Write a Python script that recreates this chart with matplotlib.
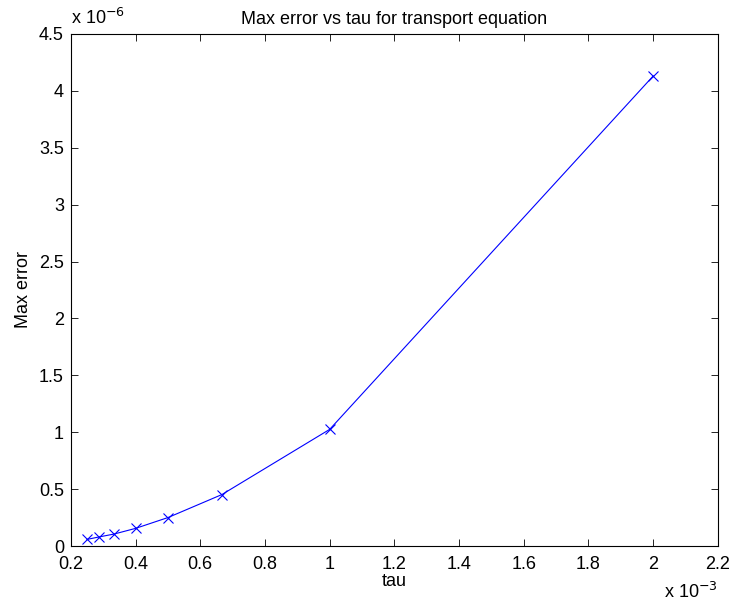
import matplotlib.pyplot as plt
from matplotlib.ticker import FuncFormatter, MultipleLocator

plt.rcParams['font.family'] = ['Liberation Sans', 'DejaVu Sans']

# time step and max error readings
tau = [2.5e-4, 2.857e-4, 3.333e-4, 4.0e-4, 5.0e-4, 6.667e-4, 1.0e-3, 2.0e-3]
max_err = [0.058e-6, 0.079e-6, 0.105e-6, 0.155e-6, 0.25e-6, 0.452e-6, 1.025e-6, 4.13e-6]

fs = 13

fig = plt.figure(figsize=(7.31, 6.06), dpi=100)
ax = fig.add_axes([0.097, 0.099, 0.885, 0.845])

ax.plot(tau, max_err, color='blue', linestyle='-', marker='x',
        markersize=7, linewidth=0.8, markeredgewidth=0.8)

ax.set_xlim(0.2e-3, 2.2e-3)
ax.set_ylim(0, 4.5e-6)
ax.xaxis.set_major_locator(MultipleLocator(0.2e-3))
ax.yaxis.set_major_locator(MultipleLocator(0.5e-6))

def fmt(scale):
    return FuncFormatter(lambda v, pos: ('%g' % round(v / scale, 6)))

ax.xaxis.set_major_formatter(fmt(1e-3))
ax.yaxis.set_major_formatter(fmt(1e-6))

ax.tick_params(direction='in', top=True, right=True, labelsize=fs, length=5, width=0.6)
ax.tick_params(axis='x', pad=7)
ax.tick_params(axis='y', pad=5)
for s in ax.spines.values():
    s.set_linewidth(0.8)

ax.set_title("Max error vs tau for transport equation", fontsize=fs, pad=7)
ax.set_xlabel("tau", fontsize=fs, labelpad=0)
ax.set_ylabel("Max error", fontsize=fs, labelpad=5)

ax.text(0.0, 1.012, r"x 10$^{-6}$", transform=ax.transAxes, fontsize=fs,
        ha='left', va='bottom')
ax.text(1.0, -0.07, r"x 10$^{-3}$", transform=ax.transAxes, fontsize=fs,
        ha='right', va='top')

plt.savefig("out.png", dpi=100)
